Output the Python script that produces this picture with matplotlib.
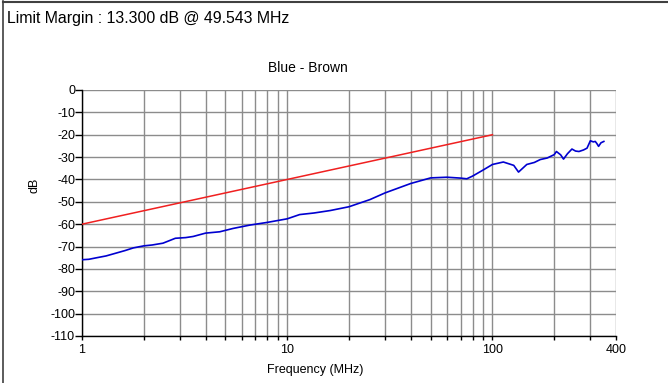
import matplotlib.pyplot as plt
from matplotlib.lines import Line2D
from matplotlib.ticker import FixedLocator, NullFormatter

plt.rcParams['font.family'] = ['Liberation Sans', 'DejaVu Sans']
plt.rcParams['axes.unicode_minus'] = False

# Datos
freq = [1.0, 1.08, 1.18, 1.31, 1.47, 1.62, 1.78, 2.0, 2.2, 2.48, 2.85, 3.2, 3.48,
        4.0, 4.69, 5.45, 6.58, 8.0, 10.0, 11.5, 13.5, 16.2, 20.0, 25.3, 30.0,
        40.0, 50.0, 60.0, 70.0, 75.0, 80.0, 90.0, 100.0, 113.0, 127.0, 134.0,
        147.0, 160.0, 171.0, 185.0, 200.0, 205.0, 215.0, 222.0, 232.0, 244.0,
        254.0, 264.0, 278.0, 289.0, 300.0, 310.0, 317.0, 323.0, 329.0, 338.0, 349.0]
blue_brown = [-75.9, -75.7, -75.0, -74.2, -72.9, -71.8, -70.6, -69.7, -69.3, -68.5,
              -66.3, -66.0, -65.5, -64.0, -63.4, -61.9, -60.4, -59.2, -57.6, -55.7,
              -55.0, -53.9, -52.2, -49.0, -46.0, -41.8, -39.3, -39.0, -39.4, -39.7,
              -38.5, -35.8, -33.3, -32.2, -33.7, -36.7, -33.3, -32.4, -31.1, -30.4,
              -28.9, -27.5, -29.0, -30.9, -28.5, -26.4, -27.3, -27.5, -26.8, -26.0,
              -22.7, -23.2, -23.0, -24.0, -25.2, -23.6, -23.0]

limite_freq = [1, 100]
limite_db = [-60, -20]

x_ticks = [1, 10, 100, 400]
x_tick_labels = ['1', '10', '100', '400']
y_ticks = list(range(-110, 1, 10))

fig = plt.figure(figsize=(6.68, 3.83), dpi=100)
ax = fig.add_axes([82 / 668, 1 - 336 / 383, (616 - 82) / 668, (336 - 90) / 383])

ax.plot(limite_freq, limite_db, color='#f02020', lw=1.1, zorder=3)
ax.plot(freq, blue_brown, color='#0000d0', lw=1.2, zorder=4)

ax.set_xscale('log')
ax.set_xlim(1, 400)
ax.set_ylim(-110, 0)

ax.xaxis.set_major_locator(FixedLocator(x_ticks))
ax.set_xticklabels(x_tick_labels)
minors = [m * d for d in (1, 10, 100) for m in range(2, 10) if m * d < 400]
ax.xaxis.set_minor_locator(FixedLocator(minors))
ax.xaxis.set_minor_formatter(NullFormatter())
ax.set_yticks(y_ticks)

ax.grid(True, which='both', color='#8c8c8c', lw=1.0)
for s in ('top', 'right'):
    ax.spines[s].set_visible(False)
for s in ('left', 'bottom'):
    ax.spines[s].set_color('black')
    ax.spines[s].set_linewidth(1.0)

ax.tick_params(axis='y', length=5, width=1, pad=0, labelsize=9)
ax.tick_params(axis='x', which='both', direction='out', length=3, width=1,
               pad=3, labelsize=9)

fig.text(34 / 668, 1 - 185 / 383, 'dB', rotation=90, ha='center', va='center', fontsize=9)
fig.text(315 / 668, 1 - 370 / 383, 'Frequency (MHz)', ha='center', va='center', fontsize=9)
fig.text(308 / 668, 1 - 68 / 383, 'Blue - Brown', ha='center', va='center', fontsize=10)
fig.text(7 / 668, 1 - 19 / 383, 'Limit Margin : 13.300 dB @ 49.543 MHz',
         ha='left', va='center', fontsize=11.4)

# marco de la figura (izquierda y arriba)
fig.add_artist(Line2D([3 / 668, 3 / 668], [0, 1 - 1 / 383], color='#404040', lw=1.2))
fig.add_artist(Line2D([3 / 668, 1], [1 - 1.5 / 383, 1 - 1.5 / 383], color='#404040', lw=1.5))

fig.savefig('out.png', dpi=100)
